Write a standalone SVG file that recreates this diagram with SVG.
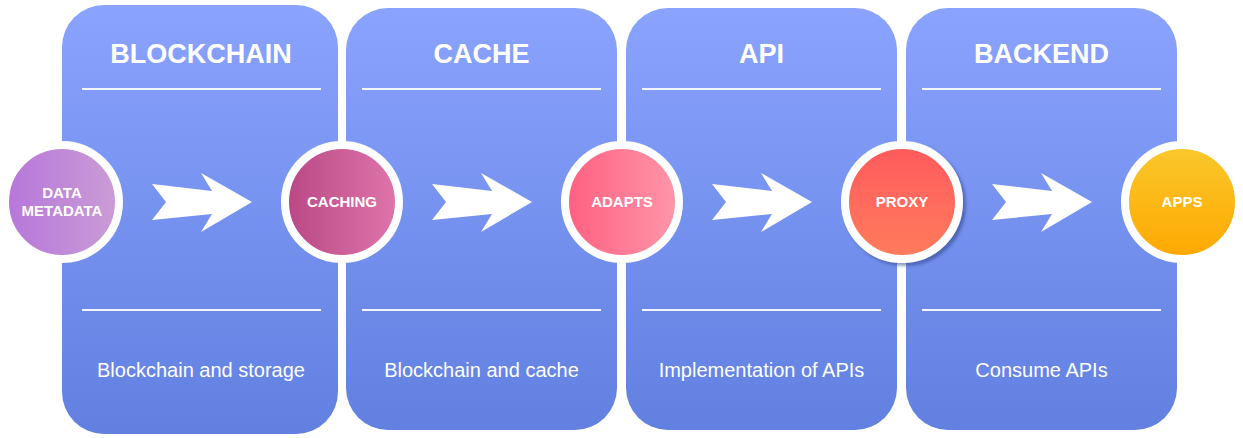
<svg xmlns="http://www.w3.org/2000/svg" width="1243" height="438" viewBox="0 0 1243 438">
<defs>
<linearGradient id="panel" x1="0" y1="0" x2="0" y2="1">
<stop offset="0" stop-color="#8aa3fe"/>
<stop offset="1" stop-color="#6180e0"/>
</linearGradient>
<linearGradient id="gData" x1="0" y1="0" x2="1" y2="0">
<stop offset="0" stop-color="#b676da"/>
<stop offset="1" stop-color="#cb9dd6"/>
</linearGradient>
<linearGradient id="gCache" x1="0" y1="0" x2="1" y2="0">
<stop offset="0" stop-color="#b84885"/>
<stop offset="1" stop-color="#e075ab"/>
</linearGradient>
<linearGradient id="gAdapt" x1="0" y1="0" x2="1" y2="0">
<stop offset="0" stop-color="#ff5f80"/>
<stop offset="1" stop-color="#ff97aa"/>
</linearGradient>
<linearGradient id="gProxy" x1="0" y1="0" x2="0" y2="1">
<stop offset="0" stop-color="#ff5a5c"/>
<stop offset="1" stop-color="#ff7c5c"/>
</linearGradient>
<linearGradient id="gApps" x1="0" y1="0" x2="0" y2="1">
<stop offset="0" stop-color="#f9c82c"/>
<stop offset="1" stop-color="#ffa800"/>
</linearGradient>
<filter id="shadow" x="-20%" y="-20%" width="150%" height="150%">
<feDropShadow dx="3" dy="3" stdDeviation="1.5" flood-color="#2a3a80" flood-opacity="0.5"/>
</filter>
<polygon id="arrow" points="0,-18 60,-11 49,-29 100,0 49,30 60,12 0,18 14,0" fill="#ffffff"/>
</defs>
<style>
.panel{fill:url(#panel)}
.title{font-family:"Liberation Sans",Arial,sans-serif;font-weight:bold;font-size:27px;fill:#ffffff;text-anchor:middle}
.desc{font-family:"Liberation Sans",Arial,sans-serif;font-size:20px;fill:#ffffff;text-anchor:middle}
.sep{stroke:#f2f4ff;stroke-width:2}
.ring{stroke:#ffffff;stroke-width:8}
.ctext{font-family:"Liberation Sans",Arial,sans-serif;font-weight:bold;font-size:15px;fill:#ffffff;text-anchor:middle}
</style>
<rect width="1243" height="438" fill="#ffffff"/>

<g id="panel-blockchain">
<rect class="panel" x="62" y="5" width="276" height="429" rx="42"/>
<text class="title" x="201" y="63">BLOCKCHAIN</text>
<line class="sep" x1="82" y1="89" x2="321" y2="89"/>
<line class="sep" x1="82" y1="310" x2="321" y2="310"/>
<text class="desc" x="201" y="377">Blockchain and storage</text>
</g>
<g id="panel-cache">
<rect class="panel" x="346" y="8" width="271" height="422" rx="42"/>
<text class="title" x="481.5" y="63">CACHE</text>
<line class="sep" x1="362" y1="89" x2="601" y2="89"/>
<line class="sep" x1="362" y1="310" x2="601" y2="310"/>
<text class="desc" x="481.5" y="377">Blockchain and cache</text>
</g>
<g id="panel-api">
<rect class="panel" x="626" y="8" width="271" height="422" rx="42"/>
<text class="title" x="761.5" y="63">API</text>
<line class="sep" x1="642" y1="89" x2="881" y2="89"/>
<line class="sep" x1="642" y1="310" x2="881" y2="310"/>
<text class="desc" x="761.5" y="377">Implementation of APIs</text>
</g>
<g id="panel-backend">
<rect class="panel" x="906" y="8" width="271" height="422" rx="42"/>
<text class="title" x="1041.5" y="63">BACKEND</text>
<line class="sep" x1="922" y1="89" x2="1161" y2="89"/>
<line class="sep" x1="922" y1="310" x2="1161" y2="310"/>
<text class="desc" x="1041.5" y="377">Consume APIs</text>
</g>

<g id="connectors">
<use href="#arrow" x="152" y="202"/>
<use href="#arrow" x="432" y="202"/>
<use href="#arrow" x="712" y="202"/>
<use href="#arrow" x="992" y="202"/>
</g>

<g id="node-data">
<circle class="ring" cx="62" cy="202" r="57" fill="url(#gData)"/>
<text class="ctext" x="62" y="198">DATA</text>
<text class="ctext" x="62" y="216">METADATA</text>
</g>
<g id="node-caching">
<circle class="ring" cx="342" cy="202" r="57" fill="url(#gCache)"/>
<text class="ctext" x="342" y="207">CACHING</text>
</g>
<g id="node-adapts">
<circle class="ring" cx="622" cy="202" r="57" fill="url(#gAdapt)"/>
<text class="ctext" x="622" y="207">ADAPTS</text>
</g>
<g id="node-proxy">
<circle class="ring" cx="902" cy="202" r="57" fill="url(#gProxy)" filter="url(#shadow)"/>
<text class="ctext" x="902" y="207">PROXY</text>
</g>
<g id="node-apps">
<circle class="ring" cx="1182" cy="202" r="57" fill="url(#gApps)"/>
<text class="ctext" x="1182" y="207">APPS</text>
</g>
</svg>
